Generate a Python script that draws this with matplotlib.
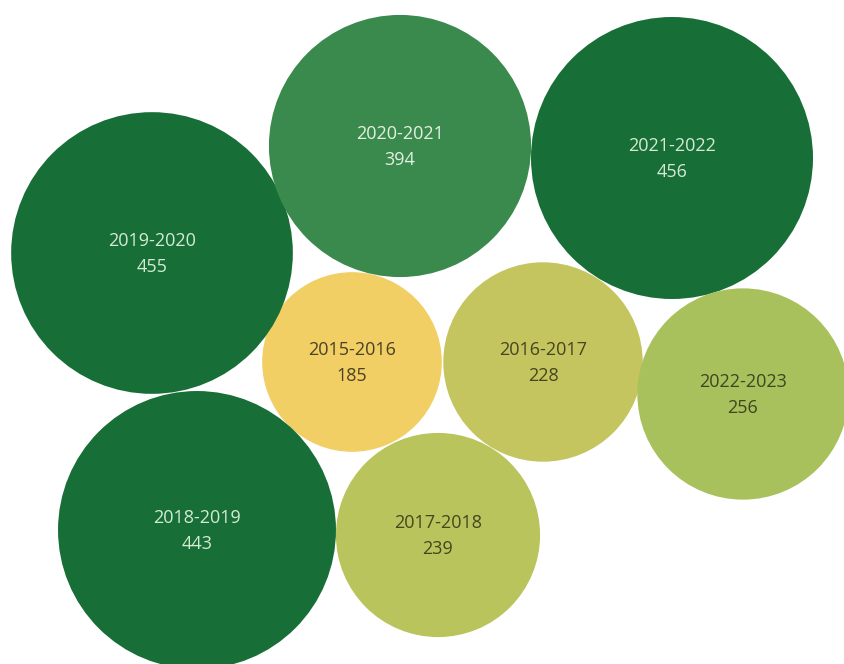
import matplotlib.pyplot as plt
from matplotlib.patches import Circle
import numpy as np

# data
seasons = ["2015-2016", "2016-2017", "2017-2018", "2018-2019",
           "2019-2020", "2020-2021", "2021-2022", "2022-2023"]
counts = [185, 228, 239, 443, 455, 394, 456, 256]

# layout (pixel centres of the packed bubbles)
centers = [(352, 362), (543, 362), (438, 535), (197, 530),
           (152, 253), (400, 146), (672, 158), (743, 394)]
colors = ["#f1cf64", "#c4c55f", "#b9c45c", "#176f37",
          "#176f37", "#3a8a4d", "#176f37", "#a9c15c"]
text_colors = ["#4a4224", "#45461f", "#45461f", "#d4ead3",
               "#d4ead3", "#e4f0e2", "#d4ead3", "#3e4620"]

# bubble area proportional to value
r_max = 141
radii = r_max * np.sqrt(np.array(counts) / max(counts))

fig = plt.figure(figsize=(8.45, 6.64), dpi=100)
ax = fig.add_axes([0, 0, 1, 1])
ax.set_xlim(0, 845)
ax.set_ylim(664, 0)
ax.set_aspect("equal")
ax.axis("off")

for s, v, (cx, cy), r, c, tc in zip(seasons, counts, centers, radii, colors, text_colors):
    ax.add_patch(Circle((cx, cy), r, color=c, lw=0))
    ax.text(cx, cy + 1, f"{s}\n{v}", ha="center", va="center", fontsize=13,
            color=tc, linespacing=1.6, family="Open Sans")

fig.savefig("out.png", dpi=100)
